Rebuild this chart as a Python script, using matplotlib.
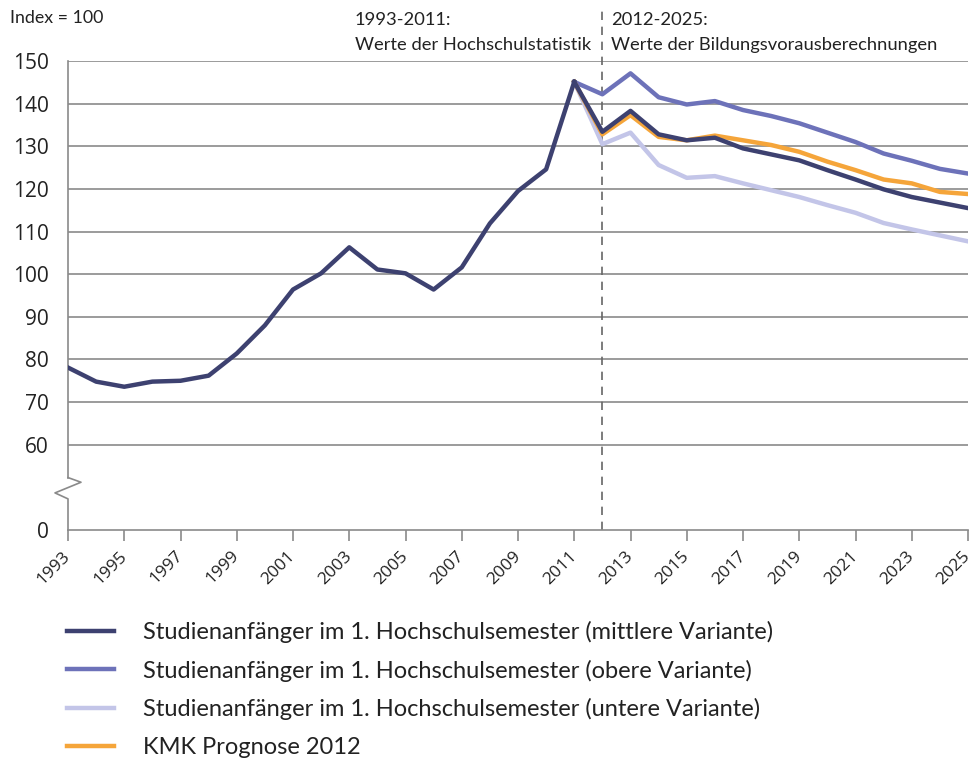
import matplotlib
matplotlib.use("Agg")
import matplotlib.pyplot as plt
import matplotlib.transforms as mtransforms
from matplotlib.lines import Line2D

years_hist = list(range(1993, 2012))
hist = [78.1, 74.8, 73.6, 74.8, 75.0, 76.2, 81.4, 88.0, 96.4, 100.2, 106.3,
        101.1, 100.2, 96.4, 101.6, 111.9, 119.5, 124.6, 145.1]
years_proj = list(range(2011, 2026))
mittel = [145.1, 133.4, 138.3, 132.8, 131.4, 132.0, 129.5, 128.1, 126.7, 124.4,
          122.2, 119.9, 118.1, 116.8, 115.5]
obere = [145.1, 142.2, 147.1, 141.5, 139.8, 140.6, 138.5, 137.1, 135.4, 133.2,
         131.0, 128.3, 126.6, 124.7, 123.6]
untere = [145.1, 130.5, 133.2, 125.6, 122.6, 123.0, 121.3, 119.7, 118.1, 116.2,
          114.4, 112.0, 110.5, 109.1, 107.7]
kmk = [145.1, 132.8, 137.3, 132.2, 131.4, 132.5, 131.4, 130.3, 128.7, 126.4,
       124.4, 122.2, 121.3, 119.3, 118.8]

labels = ["Studienanfänger im 1. Hochschulsemester (mittlere Variante)",
          "Studienanfänger im 1. Hochschulsemester (obere Variante)",
          "Studienanfänger im 1. Hochschulsemester (untere Variante)",
          "KMK Prognose 2012"]
ytick_vals = [40, 60, 70, 80, 90, 100, 110, 120, 130, 140, 150]
ytick_labels = ["0", "60", "70", "80", "90", "100", "110", "120", "130", "140", "150"]
xtick_vals = list(range(1993, 2026, 2))

c_mid = "#3d4170"
c_up = "#6d72b9"
c_low = "#c3c5e8"
c_kmk = "#f5a53a"
grid_c = "#8a8a8a"
txt_c = "#222222"

plt.rcParams['font.family'] = ['Lato', 'DejaVu Sans']

fig = plt.figure(figsize=(9.76, 7.58), dpi=100)
ax = fig.add_axes([68/976, 1-530/758, 900/976, 469/758])
ax.set_xlim(1993, 2025)
ax.set_ylim(40, 150)

for v in ytick_vals[1:]:
    ax.axhline(v, color=grid_c, lw=1.2, zorder=1)

for s in ["top", "right", "left"]:
    ax.spines[s].set_visible(False)
ax.spines["bottom"].set_color(grid_c)
ax.spines["bottom"].set_linewidth(1.2)

# left spine with break
tr = mtransforms.blended_transform_factory(ax.transAxes, ax.transData)
d = 13/900
ax.plot([0, 0], [150, 52.3], color=grid_c, lw=1.2, transform=tr, clip_on=False, zorder=2)
ax.plot([0, d, -d, 0, 0], [52.3, 51.2, 48.7, 47.3, 40], color=grid_c, lw=1.2,
        transform=tr, clip_on=False, zorder=2)

ax.plot(years_proj, untere, color=c_low, lw=3.2, zorder=3, solid_joinstyle='round')
ax.plot(years_proj, obere, color=c_up, lw=3.2, zorder=4, solid_joinstyle='round')
ax.plot(years_proj, kmk, color=c_kmk, lw=3.2, zorder=5, solid_joinstyle='round')
ax.plot(years_proj, mittel, color=c_mid, lw=3.2, zorder=6, solid_joinstyle='round')
ax.plot(years_hist, hist, color=c_mid, lw=3.2, zorder=6, solid_joinstyle='round')

ax.set_yticks(ytick_vals)
ax.set_yticklabels(ytick_labels, fontfamily='Open Sans', fontsize=15, color=txt_c)
ax.tick_params(axis='y', length=0, pad=14)
ax.set_xticks(xtick_vals)
ax.set_xticklabels([str(y) for y in xtick_vals], rotation=45, ha='right', va='center',
                   rotation_mode='anchor', fontfamily='Open Sans', fontsize=12.5, color=txt_c)
ax.tick_params(axis='x', length=8, width=1.2, color=grid_c, pad=9)

# dashed separator
ax.axvline(2012, ymin=0, ymax=1.11, color="#666666", lw=1.2, ls=(0, (5, 4)),
           clip_on=False, zorder=2)

fig.text(10/976, 1-18/758, "Index = 100", fontsize=12.8, color=txt_c, va='center')
fig.text(355/976, 1-20/758, "1993-2011:", fontsize=13.2, color=txt_c, va='center')
fig.text(355/976, 1-45/758, "Werte der Hochschulstatistik", fontsize=13.2, color=txt_c, va='center')
fig.text(611/976, 1-20/758, "2012-2025:", fontsize=13.2, color=txt_c, va='center')
fig.text(611/976, 1-45/758, "Werte der Bildungsvorausberechnungen", fontsize=13.2, color=txt_c, va='center')

handles = [Line2D([], [], color=c, lw=3.2) for c in [c_mid, c_up, c_low, c_kmk]]
leg = fig.legend(handles, labels, loc='upper left', bbox_to_anchor=(67/976, 1-621/758),
                 frameon=False, fontsize=17, handlelength=2.0, handletextpad=1.2,
                 labelspacing=0.7, borderaxespad=0, borderpad=0)
for t in leg.get_texts():
    t.set_color(txt_c)

fig.savefig("out.png", dpi=100)
